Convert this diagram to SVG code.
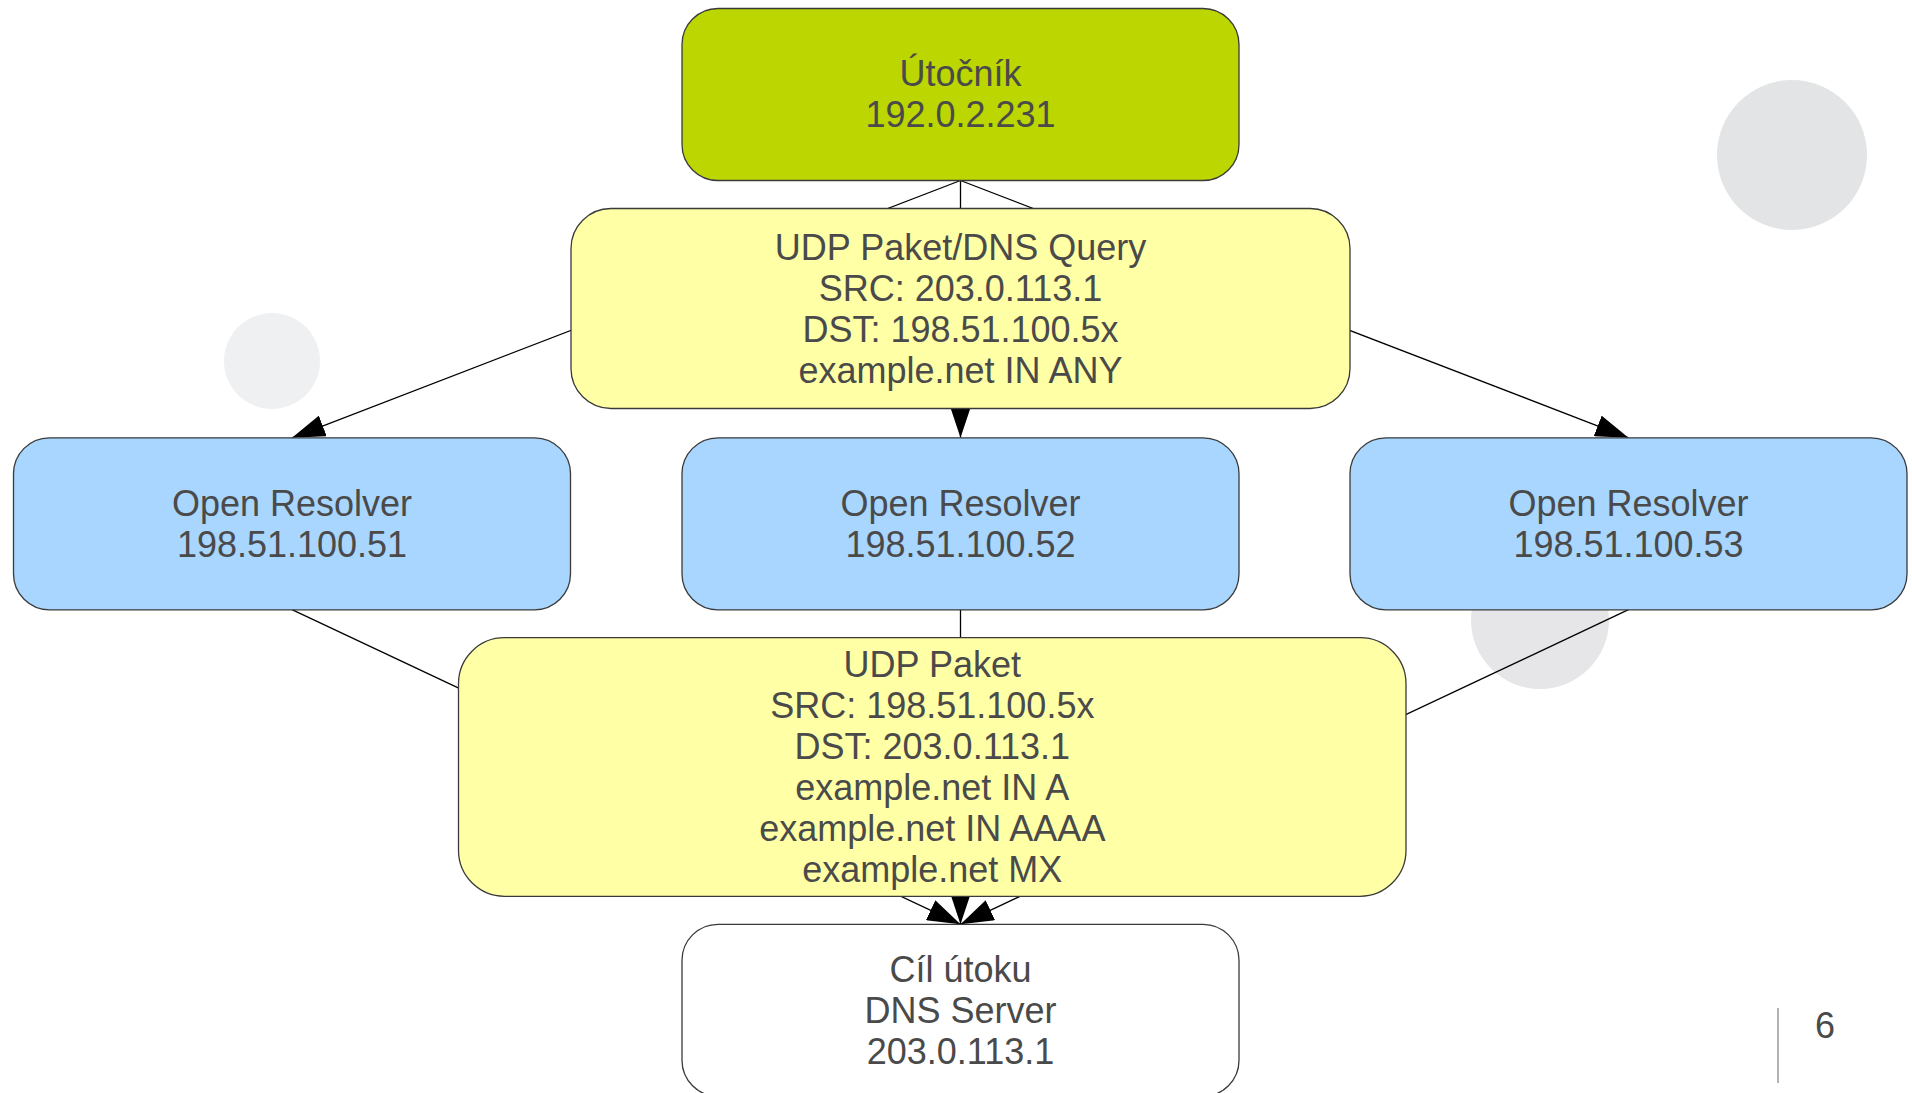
<svg xmlns="http://www.w3.org/2000/svg" width="1912" height="1093" viewBox="0 0 1912 1093">
<style>
.n{stroke:#3a3a3a;stroke-width:1.3}
.t{font-family:"Liberation Sans",Arial,sans-serif;font-size:36px;fill:#4a4a4a;text-anchor:middle}
.c{stroke:#000;stroke-width:1.3;fill:none;marker-end:url(#ah)}
</style>
<defs>
<marker id="ah" markerUnits="userSpaceOnUse" markerWidth="33" markerHeight="22" refX="33" refY="11" orient="auto" viewBox="0 0 33 22">
<path d="M0,0 L33,11 L0,22 z" fill="#000"/>
</marker>
</defs>
<rect width="1912" height="1093" fill="#fff"/>
<g id="decor">
<circle cx="1792" cy="155" r="75" fill="#e2e4e5"/>
<circle cx="272" cy="361" r="48" fill="#eff0f1"/>
<circle cx="1540" cy="620" r="69" fill="#e6e6e9"/>
<line x1="1778" y1="1008" x2="1778" y2="1083" stroke="#b3b3b3" stroke-width="2"/>
<text class="t" x="1825" y="1038">6</text>
</g>
<g id="connectors">
<path class="c" d="M960.5,180.5 L960.5,437.8"/>
<path class="c" d="M960.5,180.5 L292,437.8"/>
<path class="c" d="M960.5,180.5 L1628.5,437.8"/>
<path class="c" d="M292,609.7 L960.5,924.3"/>
<path class="c" d="M960.5,609.7 L960.5,924.3"/>
<path class="c" d="M1628.5,609.7 L960.5,924.3"/>
</g>
<g id="attacker">
<rect class="n" x="682" y="8.5" width="557" height="172" rx="36" fill="#bbd600"/>
<text class="t" x="960.5" y="86">Útočník</text>
<text class="t" x="960.5" y="127">192.0.2.231</text>
</g>
<g id="query">
<rect class="n" x="571" y="208.5" width="779" height="200" rx="40" fill="#ffffa6"/>
<text class="t" x="960.5" y="260">UDP Paket/DNS Query</text>
<text class="t" x="960.5" y="301">SRC: 203.0.113.1</text>
<text class="t" x="960.5" y="342">DST: 198.51.100.5x</text>
<text class="t" x="960.5" y="383">example.net IN ANY</text>
</g>
<g id="resolver1">
<rect class="n" x="13.5" y="437.8" width="557" height="172" rx="36" fill="#a8d6ff"/>
<text class="t" x="292" y="516">Open Resolver</text>
<text class="t" x="292" y="557">198.51.100.51</text>
</g>
<g id="resolver2">
<rect class="n" x="682" y="437.8" width="557" height="172" rx="36" fill="#a8d6ff"/>
<text class="t" x="960.5" y="516">Open Resolver</text>
<text class="t" x="960.5" y="557">198.51.100.52</text>
</g>
<g id="resolver3">
<rect class="n" x="1350" y="437.8" width="557" height="172" rx="36" fill="#a8d6ff"/>
<text class="t" x="1628.5" y="516">Open Resolver</text>
<text class="t" x="1628.5" y="557">198.51.100.53</text>
</g>
<g id="packet">
<rect class="n" x="458.5" y="637.7" width="947.5" height="258.6" rx="46" fill="#ffffa6"/>
<text class="t" x="932.3" y="677">UDP Paket</text>
<text class="t" x="932.3" y="718">SRC: 198.51.100.5x</text>
<text class="t" x="932.3" y="759">DST: 203.0.113.1</text>
<text class="t" x="932.3" y="800">example.net IN A</text>
<text class="t" x="932.3" y="841">example.net IN AAAA</text>
<text class="t" x="932.3" y="882">example.net MX</text>
</g>
<g id="target">
<rect class="n" x="682" y="924.3" width="557" height="172" rx="36" fill="#fff"/>
<text class="t" x="960.5" y="982">Cíl útoku</text>
<text class="t" x="960.5" y="1023">DNS Server</text>
<text class="t" x="960.5" y="1064">203.0.113.1</text>
</g>
</svg>
